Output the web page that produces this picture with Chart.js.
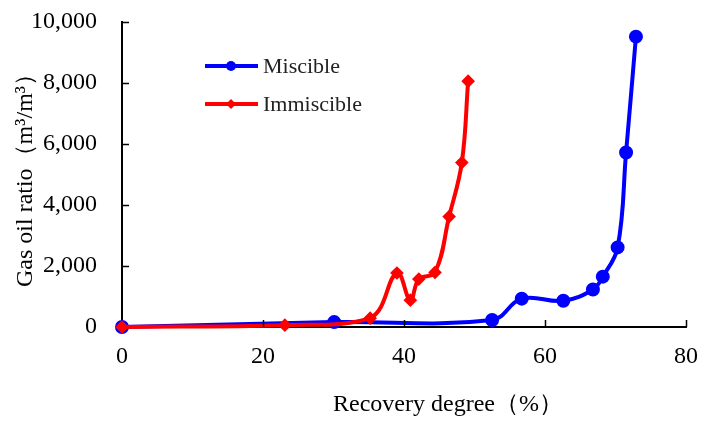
<!DOCTYPE html>
<html>
<head>
<meta charset="utf-8">
<script src="https://cdn.jsdelivr.net/npm/chart.js@4.4.1/dist/chart.umd.min.js"></script>
<style>
  html, body { margin: 0; padding: 0; background: #fff; }
  #wrap { width: 703px; height: 421px; position: relative; }
</style>
</head>
<body>
<div id="wrap"><canvas id="gorChart"></canvas></div>
<script>
// Recovery degree (%) and gas oil ratio (m3/m3) for each run
const miscibleRecovery = [0, 30.1, 52.5, 56.7, 62.6, 66.8, 68.2, 70.3, 71.5, 72.9];
const miscibleGor = [0, 160, 230, 930, 860, 1230, 1650, 2610, 5720, 9520];

const immiscibleRecovery = [0, 23.1, 35.2, 39.0, 40.9, 42.1, 44.4, 46.4, 48.2, 49.1];
const immiscibleGor = [0, 60, 290, 1770, 880, 1570, 1790, 3620, 5390, 8060];

const seriesNames = ['Miscible', 'Immiscible'];
const xTitle = 'Recovery degree（%）';
const yTitle = 'Gas oil ratio（m³/m³）';

const serif = "'Liberation Serif', 'Times New Roman', serif";

function toPoints(xs, ys) {
  return xs.map((x, i) => ({ x: x, y: ys[i] }));
}

// Small inward tick marks, the legend inside the plot and the x title
const extras = {
  id: 'extras',
  afterDraw(chart) {
    const ctx = chart.ctx;
    const xs = chart.scales.x;
    const ys = chart.scales.y;
    const area = chart.chartArea;
    ctx.save();
    ctx.strokeStyle = '#000';
    ctx.lineWidth = 1.5;
    ctx.beginPath();
    xs.ticks.forEach(t => {
      if (t.value === 0) return;
      const px = Math.round(xs.getPixelForValue(t.value)) + 0.5;
      ctx.moveTo(px, area.bottom);
      ctx.lineTo(px, area.bottom - 7);
    });
    ys.ticks.forEach(t => {
      if (t.value === 0) return;
      const py = Math.round(ys.getPixelForValue(t.value)) + 0.5;
      ctx.moveTo(area.left, py);
      ctx.lineTo(area.left + 7, py);
    });
    ctx.stroke();

    // legend
    chart.data.datasets.forEach((ds, i) => {
      const y = 66 + i * 38;
      ctx.strokeStyle = ds.borderColor;
      ctx.lineWidth = 4;
      ctx.beginPath();
      ctx.moveTo(205, y);
      ctx.lineTo(258, y);
      ctx.stroke();
      ctx.fillStyle = ds.borderColor;
      ctx.beginPath();
      if (ds.pointStyle === 'circle') {
        ctx.arc(231, y, 5, 0, Math.PI * 2);
      } else {
        ctx.moveTo(231, y - 5);
        ctx.lineTo(236, y);
        ctx.lineTo(231, y + 5);
        ctx.lineTo(226, y);
        ctx.closePath();
      }
      ctx.fill();
      ctx.fillStyle = '#222';
      ctx.font = '22px ' + serif;
      ctx.textBaseline = 'middle';
      ctx.textAlign = 'left';
      ctx.fillText(ds.label, 263, y + 1);
    });

    // x axis title
    ctx.fillStyle = '#000';
    ctx.font = '24px ' + serif;
    ctx.textAlign = 'center';
    ctx.textBaseline = 'middle';
    ctx.fillText(xTitle, 448, 405);
    ctx.restore();
  }
};

const ctx = document.getElementById('gorChart').getContext('2d');
const chart = new Chart(ctx, {
  type: 'line',
  data: {
    datasets: [
      {
        label: seriesNames[0],
        data: toPoints(miscibleRecovery, miscibleGor),
        borderColor: '#0000ff',
        backgroundColor: '#0000ff',
        borderWidth: 4,
        pointStyle: 'circle',
        pointRadius: 5,
        tension: 0.4,
        clip: false,
        order: 2
      },
      {
        label: seriesNames[1],
        data: toPoints(immiscibleRecovery, immiscibleGor),
        borderColor: '#ff0000',
        backgroundColor: '#ff0000',
        borderWidth: 4,
        pointStyle: 'rectRot',
        pointRadius: 4,
        tension: 0.4,
        clip: false,
        order: 1
      }
    ]
  },
  options: {
    responsive: true,
    maintainAspectRatio: false,
    animation: false,
    layout: { padding: { top: 22, right: 17, left: 0, bottom: 0 } },
    plugins: {
      legend: { display: false },
      tooltip: { enabled: false }
    },
    scales: {
      x: {
        type: 'linear',
        min: 0,
        max: 80,
        afterFit(scale) {
          scale.height = 94;
          scale.paddingLeft = 0;
          scale.paddingRight = 0;
        },
        ticks: {
          stepSize: 20,
          color: '#000',
          padding: 15,
          maxRotation: 0,
          font: { family: serif, size: 24 }
        },
        grid: { display: false, drawTicks: false },
        border: { display: true, color: '#000', width: 2 }
      },
      y: {
        type: 'linear',
        min: 0,
        max: 10000,
        afterFit(scale) {
          scale.width = 122;
          scale.paddingTop = 0;
          scale.paddingBottom = 0;
        },
        ticks: {
          stepSize: 2000,
          color: '#000',
          padding: 25,
          font: { family: serif, size: 24 }
        },
        title: {
          display: true,
          text: yTitle,
          color: '#000',
          padding: { top: 11, bottom: 0 },
          font: { family: serif, size: 24 }
        },
        grid: { display: false, drawTicks: false },
        border: { display: true, color: '#000', width: 2 }
      }
    }
  },
  plugins: [extras]
});
</script>
</body>
</html>
